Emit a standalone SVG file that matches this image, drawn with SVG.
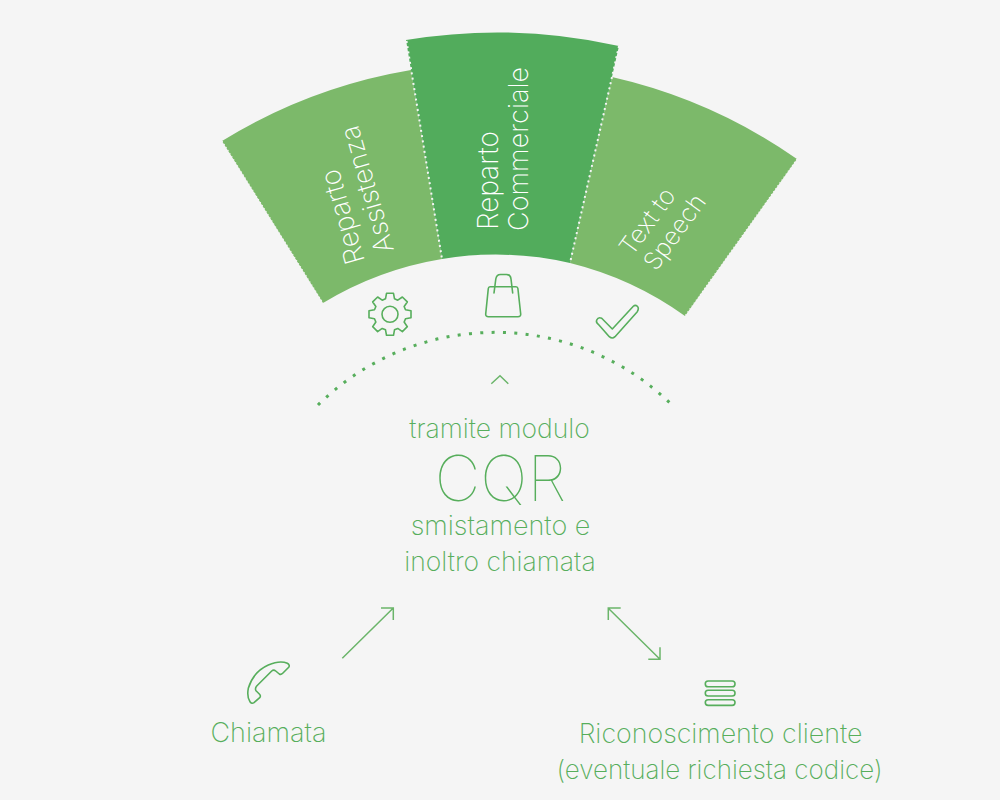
<svg xmlns="http://www.w3.org/2000/svg" width="1000" height="800" viewBox="0 0 1000 800">
<style>
.ico{fill:none;stroke:#57ae5c;stroke-width:1.6;stroke-linejoin:round;stroke-linecap:round}
.arr{fill:none;stroke:#6bb56a;stroke-width:1.5}
.t{font-family:"Inter","Liberation Sans",sans-serif;font-weight:250;fill:#57ae5c;font-size:26.500px;text-anchor:middle}
.w{font-family:"Inter","Liberation Sans",sans-serif;font-weight:250;fill:#fff;font-size:27.500px}
.side{fill:#7cb96a}
.seam{fill:none;stroke:#f5f5f5;stroke-width:2;stroke-dasharray:2 3.300}
.edge{fill:none;stroke:#f5f5f5;stroke-width:1.200;stroke-dasharray:1.200 2.400}
</style>
<rect width="1000" height="800" fill="#f5f5f5"/>
<g id="sector-assistenza">
<path class="side" d="M222,141A526,526 0 0 1 411,70L442,259A335,335 0 0 0 323,303Z"/>
<path class="edge" d="M222,141L323,303"/>
<text class="w" transform="translate(365,261) rotate(-106)">Reparto</text>
<text class="w" transform="translate(394,250) rotate(-106)" style="font-size:26.800px">Assistenza</text>
</g>
<g id="sector-speech">
<path class="side" d="M612,77A526,526 0 0 1 797,159L685,316A335,335 0 0 0 570,263Z"/>
<path class="edge" d="M797,159L685,316"/>
<text class="w" transform="translate(632,257) rotate(-54)" style="font-size:25px">Text to</text>
<text class="w" transform="translate(656,272) rotate(-54)" style="font-size:24.800px">Speech</text>
</g>
<g id="sector-commerciale">
<path fill="#52ac5c" d="M406,40A558,558 0 0 1 619,46L570,263A335,335 0 0 0 442,259Z"/>
<path class="seam" d="M406.500,41L442,259M619,46L570,263"/>
<text class="w" transform="translate(498,230) rotate(-90)" style="font-size:28px">Reparto</text>
<text class="w" transform="translate(528,231) rotate(-90)" style="font-size:27.100px">Commerciale</text>
</g>
<g id="icon-gear">
<path class="ico" transform="translate(390,314.300)" d="M-4.500,-15.500L-3.500,-21L3.500,-21L4.500,-15.500L7.780,-14.140L12.370,-17.320L17.320,-12.370L14.140,-7.780L15.500,-4.500L21,-3.500L21,3.500L15.500,4.500L14.140,7.780L17.320,12.370L12.370,17.320L7.780,14.140L4.500,15.500L3.500,21L-3.500,21L-4.500,15.500L-7.780,14.140L-12.370,17.320L-17.320,12.370L-14.140,7.780L-15.500,4.500L-21,3.500L-21,-3.500L-15.500,-4.500L-14.140,-7.780L-17.320,-12.370L-12.370,-17.320L-7.780,-14.140Z"/>
<circle class="ico" cx="390" cy="314.300" r="8"/>
</g>
<g id="icon-bag">
<path class="ico" d="M490,286.700L516,286.700Q517.700,286.700 517.900,288.500L520.700,314Q520.900,316.700 518,316.700L488.500,316.700Q485.500,316.700 485.700,314L488.300,288.500Q488.500,286.700 490,286.700Z"/>
<path class="ico" d="M494,293L495.800,279Q496.500,274.500 500.500,274.500L506.500,274.500Q510.500,274.500 511,279L512.700,293"/>
</g>
<g id="icon-check">
<path class="ico" d="M633.300,306.300L612.300,329L601.700,318.300Q598.300,316.700 596.700,320Q595.700,322.300 598.300,324.300L609.300,336.700Q612.300,339.300 615,336.700L637.300,311.700Q639.300,308.300 637.300,306.300Q635.300,304.300 633.300,306.300Z"/>
</g>
<g id="connectors">
<path fill="none" stroke="#57ae5c" stroke-width="3" stroke-dasharray="3 8.340" d="M318,405A252,252 0 0 1 672,405"/>
<path class="arr" d="M491.300,383.700L500,375.700L508.300,383.700"/>
<path class="arr" d="M342.300,658.300L393.300,608M381,608L393.300,608L393.300,620"/>
<path class="arr" d="M608.300,608.300L660,659.300M620.700,608L608.300,608L608.300,620M648.300,659.300L660,659.300L660,647.300"/>
</g>
<g id="label-cqr">
<text class="t" x="499.500" y="438.300">tramite modulo</text>
<text class="t" x="500.500" y="500.500" style="font-size:63px;font-weight:110">CQR</text>
<text class="t" x="500.500" y="535" style="font-size:27px">smistamento e</text>
<text class="t" x="500" y="571">inoltro chiamata</text>
</g>
<g id="node-chiamata">
<path class="ico" d="M287.300,663.300Q280,660 268.300,665Q253.300,671.700 248.300,688.300Q246.700,696.700 250,701.700Q251.700,704.300 254,702.700L260,697.300Q261,695.700 259.300,694L256,690.700Q254.700,688.700 256.700,686L271.700,671Q273.700,669.300 275.700,671L279.300,674Q281,675 282.700,673.300L288.700,667.300Q290.300,665 287.300,663.300Z"/>
<text class="t" x="268.500" y="742" style="font-size:27px">Chiamata</text>
</g>
<g id="node-riconoscimento">
<rect class="ico" x="705.300" y="681" width="29.700" height="5.700" rx="2.800"/>
<rect class="ico" x="705.300" y="690.300" width="29.700" height="5.700" rx="2.800"/>
<rect class="ico" x="705.300" y="699.700" width="29.700" height="5.700" rx="2.800"/>
<text class="t" x="720.500" y="743" style="font-size:26.800px">Riconoscimento cliente</text>
<text class="t" x="719.500" y="779" style="font-size:26px">(eventuale richiesta codice)</text>
</g>
</svg>
